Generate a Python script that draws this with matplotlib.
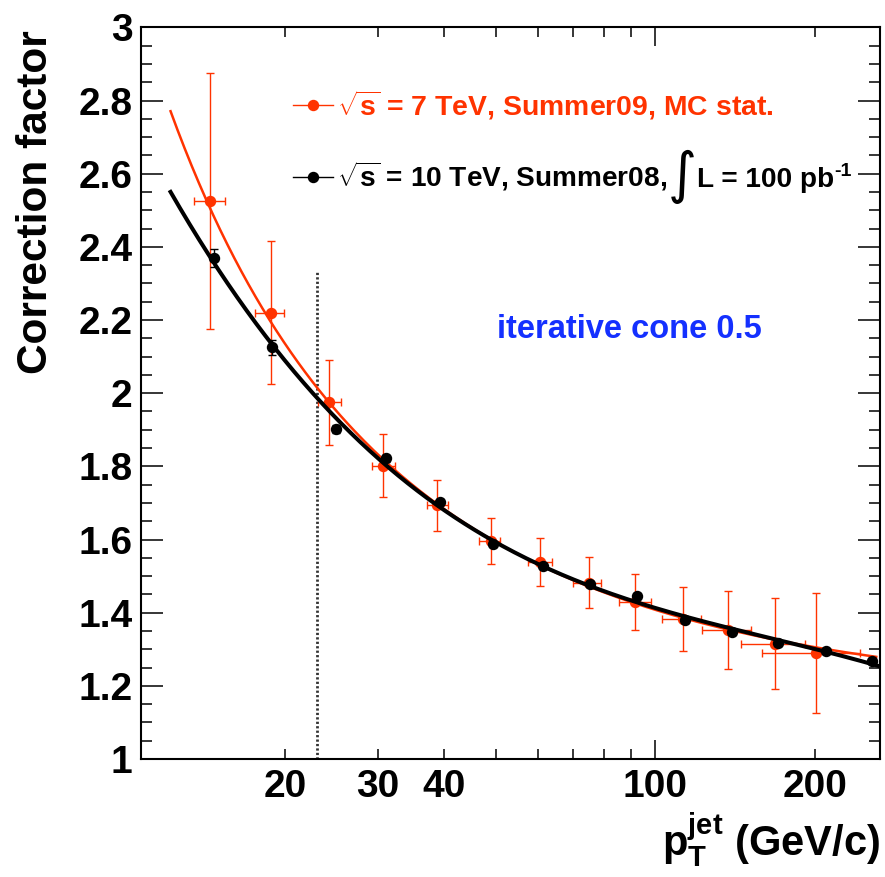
import numpy as np
import matplotlib
matplotlib.use("Agg")
from matplotlib import pyplot as plt
from matplotlib.ticker import FixedLocator, FixedFormatter

# data
red_x = [14.46, 18.8, 24.25, 30.66, 38.8, 48.96, 60.5, 74.8, 91.5, 112.6, 137.2, 168.1, 200.9]
red_y = [2.525, 2.22, 1.975, 1.802, 1.694, 1.597, 1.538, 1.482, 1.429, 1.383, 1.352, 1.315, 1.29]
red_yerr = [0.35, 0.195, 0.117, 0.087, 0.07, 0.063, 0.065, 0.07, 0.076, 0.087, 0.107, 0.125, 0.165]
red_xlo = [13.5, 17.6, 23.1, 29.2, 37.0, 46.4, 57.4, 70.0, 85.3, 103.0, 122.3, 144.9, 159.0]
red_xhi = [15.4, 19.9, 25.5, 32.2, 40.7, 51.0, 63.7, 78.9, 98.0, 121.7, 151.7, 191.4, 243.0]

black_x = [14.69, 18.88, 24.93, 31.0, 39.3, 49.4, 61.4, 75.2, 92.4, 113.9, 139.2, 170.5, 209.8, 255.9]
black_y = [2.37, 2.125, 1.902, 1.822, 1.702, 1.588, 1.527, 1.479, 1.445, 1.379, 1.347, 1.317, 1.294, 1.267]
black_yerr = [0.025, 0.02, 0.012, 0.01, 0.008, 0.008, 0.008, 0.008, 0.008, 0.008, 0.008, 0.008, 0.008, 0.008]

fit_lo = 12.17
red_fit_hi = 261.0
black_fit_hi = 265.0
cut_x = 23.0
cut_top = 2.33

red_label = r"$\sqrt{\mathrm{s}}$ = 7 TeV, Summer09, MC stat."
black_label = [r"$\sqrt{\mathrm{s}}$ = 10 TeV, Summer08,", "\u222b", "L = 100 pb", "-1"]
algo_text = "iterative cone 0.5"

x_major = [100]
x_minor = [20, 30, 40, 50, 60, 70, 80, 90, 200]
x_minor_labels = ["20", "30", "40", "", "", "", "", "", "200"]

RED = "#ff3300"
BLUE = "#1430ff"

plt.rcParams["font.family"] = ["Liberation Sans", "DejaVu Sans"]
plt.rcParams["font.weight"] = "bold"
plt.rcParams["mathtext.fontset"] = "custom"
plt.rcParams["mathtext.rm"] = "Liberation Sans:bold"
plt.rcParams["mathtext.bf"] = "Liberation Sans:bold"
plt.rcParams["mathtext.it"] = "Liberation Sans:bold:italic"


def fit_curve(x, y, w, lo, hi, deg, inverse):
    # polynomial fit in log10(pt) or in 1/log10(pt)
    def var(v):
        lv = np.log10(v)
        return 1.0 / lv if inverse else lv
    coef = np.polyfit(var(np.array(x)), y, deg, w=w)
    xs = np.logspace(np.log10(lo), np.log10(hi), 300)
    return xs, np.polyval(coef, var(xs))


fig = plt.figure(figsize=(8.85, 8.77), dpi=100)
ax = fig.add_axes([140.7 / 885, 1 - 759 / 877, 739.3 / 885, 731.6 / 877])

ax.set_xscale("log")
ax.set_xlim(10.69, 265.3)
ax.set_ylim(1, 3)

rx = np.array(red_x)
xerr_red = [rx - np.array(red_xlo), np.array(red_xhi) - rx]
ax.errorbar(red_x, red_y, yerr=red_yerr, xerr=xerr_red, fmt="o", color=RED,
            ms=7.2, elinewidth=1.0, capsize=3, capthick=1.0, zorder=2)
xs, ys = fit_curve(red_x, red_y, 1.0 / np.array(red_yerr), fit_lo, red_fit_hi, 2, True)
ax.plot(xs, ys, color=RED, lw=1.8, zorder=3)

xs, ys = fit_curve(black_x, black_y, np.ones(len(black_x)), fit_lo, black_fit_hi, 3, False)
ax.plot(xs, ys, color="black", lw=2.9, zorder=4)
ax.errorbar(black_x, black_y, yerr=black_yerr, fmt="o", color="black",
            ms=7.2, elinewidth=1.0, capsize=3, capthick=1.0, zorder=5)

ax.plot([cut_x, cut_x], [1, cut_top], color="#333333", lw=2.0, ls=(0, (0.8, 0.8)), zorder=1)

ax.text(50.2, 2.175, algo_text, color=BLUE, fontsize=23.5, fontweight="bold", va="center")

# legend, drawn by hand (ROOT style with big integral sign)
row_y = [0.8934, 0.7959]
key_x0, key_x1, txt_x = 0.2064, 0.2605, 0.2651
base_off = 10.0 / 731.6
for yy, col in zip(row_y, [RED, "black"]):
    ax.plot([key_x0, key_x1], [yy, yy], color=col, lw=1.0, transform=ax.transAxes, clip_on=False)
    ax.plot([(key_x0 + key_x1) / 2], [yy], "o", color=col, ms=7.2, transform=ax.transAxes, clip_on=False)

ax.text(txt_x, row_y[0] - base_off, red_label, color=RED, fontsize=20.4, va="baseline",
        transform=ax.transAxes)

renderer = fig.canvas.get_renderer()
inv = ax.transAxes.inverted()


def after(prev, gap_px):
    bb = prev.get_window_extent(renderer)
    return inv.transform((bb.x1 + gap_px, 0))[0]


t1 = ax.text(txt_x, row_y[1] - base_off, black_label[0], color="black", fontsize=20.2,
             va="baseline", transform=ax.transAxes)
t2 = ax.text(after(t1, 1), row_y[1], black_label[1], color="black", fontsize=40,
             family="DejaVu Sans", fontweight="normal", va="center", transform=ax.transAxes)
t3 = ax.text(after(t2, 0), row_y[1] - base_off, black_label[2], color="black", fontsize=20.2,
             va="baseline", transform=ax.transAxes)
ax.text(after(t3, 1), row_y[1] - base_off + 24.0 / 731.6, black_label[3], color="black",
        fontsize=14, va="top", transform=ax.transAxes)

# axes styling
for sp in ax.spines.values():
    sp.set_linewidth(1.5)
ax.xaxis.set_major_locator(FixedLocator(x_major))
ax.xaxis.set_major_formatter(FixedFormatter(["100"]))
ax.xaxis.set_minor_locator(FixedLocator(x_minor))
ax.xaxis.set_minor_formatter(FixedFormatter(x_minor_labels))
ax.set_yticks(np.arange(1, 3.01, 0.2))
ax.set_yticklabels(["1", "1.2", "1.4", "1.6", "1.8", "2", "2.2", "2.4", "2.6", "2.8", "3"])
ax.set_yticks(np.arange(1, 3.001, 0.05), minor=True)
ax.tick_params(which="both", direction="in", top=True, right=True, width=1.1)
ax.tick_params(axis="y", which="major", length=16, labelsize=28, pad=6)
ax.tick_params(axis="y", which="minor", length=8)
ax.tick_params(axis="x", which="major", length=14, labelsize=28, pad=7)
ax.tick_params(axis="x", which="minor", length=7, labelsize=28, pad=7)

ax.set_ylabel("Correction factor", fontsize=30.5, fontweight="bold", loc="top")
ax.yaxis.set_label_coords(-0.114, 0.996)
ax.set_xlabel(r"$\mathrm{p}_{\mathrm{T}}^{\mathrm{jet}}$ (GeV/c)", fontsize=30,
              fontweight="bold", loc="right")
ax.xaxis.set_label_coords(1.0, -0.072)

fig.savefig("out.png", dpi=100)
